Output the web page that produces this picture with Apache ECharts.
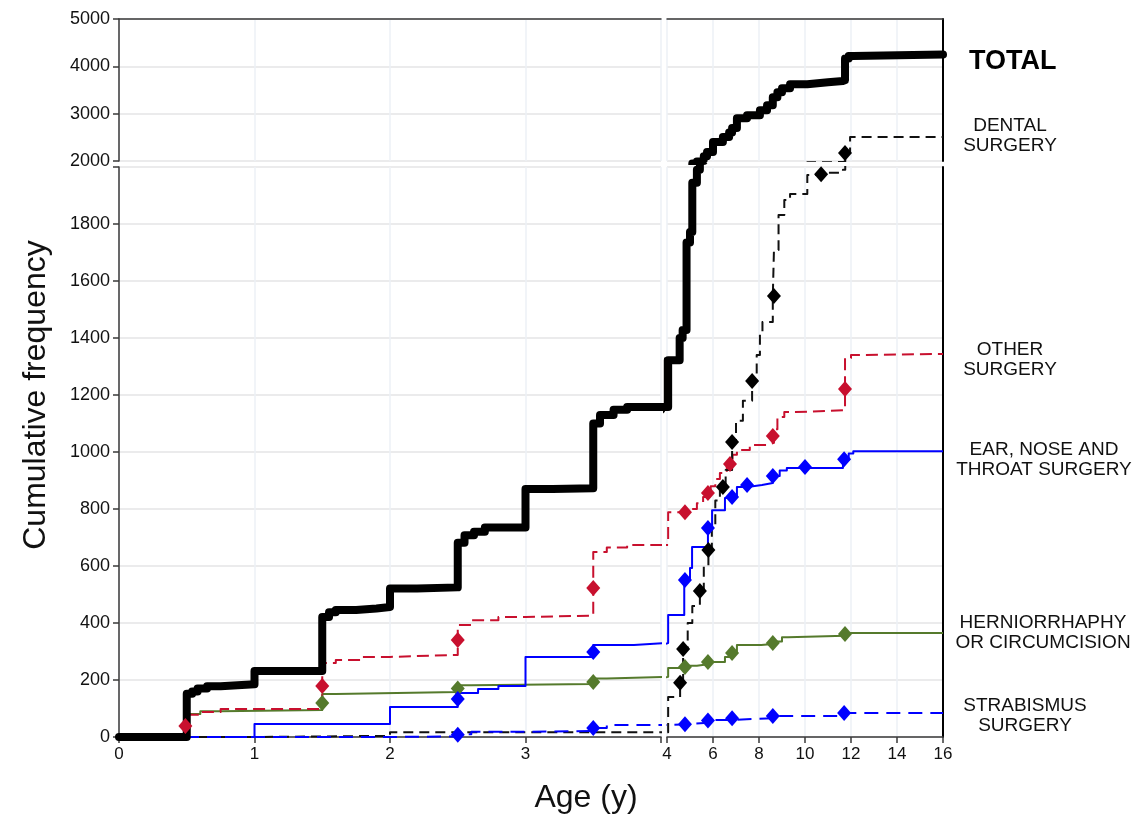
<!DOCTYPE html>
<html><head><meta charset="utf-8">
<script src="https://cdn.jsdelivr.net/npm/echarts@6/dist/echarts.min.js"></script>
<style>html,body{margin:0;padding:0;background:#fff}#c{width:1139px;height:815px}</style>
</head><body><div id="c"></div>
<script>
// ---- data (age in years, cumulative frequency) ----
const seriesNames = ['TOTAL', 'DENTAL\nSURGERY', 'OTHER\nSURGERY', 'EAR, NOSE AND\nTHROAT SURGERY', 'HERNIORRHAPHY\nOR CIRCUMCISION', 'STRABISMUS\nSURGERY'];

const totalData = [[0,0],[0.5,152],[0.54,160],[0.58,170],[0.65,178],[0.75,185],[1.0,232],[1.5,421],[1.55,438],[1.6,446],[1.75,451],[1.9,456],[2.0,521],[2.2,525],[2.5,682],[2.55,708],[2.62,720],[2.7,735],[3.0,870],[3.2,873],[3.5,1100],[3.55,1130],[3.65,1148],[3.75,1158],[4.05,1322],[4.55,1400],[4.68,1428],[4.85,1735],[5.0,1772],[5.1,1945],[5.3,1990],[5.43,2021],[5.6,2100],[5.74,2190],[6.0,2400],[6.43,2505],[6.7,2600],[6.83,2695],[7.04,2905],[7.48,2968],[8.04,3073],[8.35,3179],[8.6,3347],[8.8,3450],[9.0,3537],[9.35,3621],[10.1,3663],[11.0,3690],[11.65,3705],[11.74,4168],[11.9,4220],[12.1,4250],[16,4250]];

const dentalData = [[0,0],[1.0,4],[2.0,17],[4.05,140],[4.57,190],[4.7,309],[4.9,400],[5.1,460],[5.43,512],[5.6,600],[5.8,656],[5.95,740],[6.1,830],[6.3,874],[6.55,937],[6.83,1035],[7.0,1110],[7.3,1180],[7.7,1249],[7.9,1340],[8.04,1421],[8.15,1456],[8.6,1547],[8.65,1709],[8.85,1832],[9.1,1884],[9.35,1905],[10.1,1972],[11.0,1980],[11.65,1990],[11.75,2168],[11.96,2505],[16,2505]];
const dentalMarks = [[4.57,190],[4.7,309],[5.43,512],[5.8,656],[6.43,877],[6.83,1035],[7.7,1249],[8.65,1547],[10.7,1975],[11.74,2168]];

const otherData = [[0,0],[0.5,78],[0.6,88],[0.75,98],[1.5,260],[1.6,270],[1.8,281],[2.0,288],[2.5,393],[2.6,410],[2.8,421],[3.0,426],[3.5,649],[3.6,665],[3.75,674],[4.05,789],[5.0,800],[5.3,820],[5.57,842],[5.9,880],[6.1,905],[6.3,926],[6.6,960],[6.85,990],[7.04,1007],[7.6,1025],[8.35,1032],[8.65,1080],[8.8,1123],[9.1,1140],[9.57,1147],[11.74,1330],[12.0,1340],[12.1,1344],[16,1344]];
const otherMarks = [[0.49,39],[1.5,179],[2.5,340],[3.5,523],[4.78,789],[5.78,856],[6.74,958],[8.6,1056],[11.74,1221]];

const entData = [[0,0],[1.0,46],[2.0,105],[2.5,154],[2.65,168],[2.8,179],[3.0,281],[3.5,323],[3.8,330],[4.05,428],[4.75,551],[5.0,593],[5.09,667],[5.78,733],[5.96,796],[6.52,839],[6.83,845],[7.04,877],[7.5,884],[8.13,891],[8.6,916],[8.9,935],[9.21,944],[11.65,972],[11.9,995],[12.1,1003],[16,1003]];
const entMarks = [[2.5,133],[3.5,298],[4.78,551],[5.78,733],[6.83,842],[7.48,884],[8.6,916],[10.0,947],[11.7,975]];

const herniaData = [[0,0],[0.5,81],[0.6,90],[0.75,95],[1.5,151],[1.6,158],[2.5,182],[2.6,186],[3.5,205],[3.6,211],[4.05,242],[4.78,250],[5.3,255],[5.78,263],[6.52,281],[6.8,300],[7.04,323],[8.1,326],[8.6,335],[9.0,350],[9.26,355],[11.74,365],[16,365]];
const herniaMarks = [[1.5,119],[2.5,170],[3.5,193],[4.78,246],[5.78,263],[6.83,295],[8.6,330],[11.74,361]];

const strabData = [[0,0],[2.0,2],[2.5,10],[2.6,18],[3.0,21],[3.5,32],[3.6,42],[4.05,45],[4.9,50],[5.8,60],[6.8,66],[8.6,74],[11.7,84],[16,84]];
const strabMarks = [[2.5,8],[3.5,32],[4.78,45],[5.78,58],[6.83,66],[8.6,74],[11.7,84]];

// axis ranges / ticks
const xLeftRange = [0, 4, 1];
const xRightRange = [4, 16, 2];
const yLowRange = [0, 2000, 200];
const yHighRange = [2000, 5000, 1000];

// ---- styling ----
const FONT = 'Liberation Sans, Arial, sans-serif';
const RED = '#c8102e', BLUE = '#0000ff', GREEN = '#557a2c', BLACK = '#000000';

const lineDefs = [
  { data: herniaData, marks: herniaMarks, color: GREEN, width: 2, type: 'solid' },
  { data: entData, marks: entMarks, color: BLUE, width: 2, type: 'solid' },
  { data: otherData, marks: otherMarks, color: RED, width: 2, type: [12, 6] },
  { data: dentalData, marks: dentalMarks, color: '#111111', width: 2, type: [10, 6] },
  { data: strabData, marks: strabMarks, color: BLUE, width: 2, type: [14, 8] },
  { data: totalData, marks: null, color: BLACK, width: 8, type: 'solid' }
];

const grids = [
  { left: 119, top: 167, width: 542, height: 570 },  // lower-left
  { left: 667, top: 167, width: 276, height: 570 },  // lower-right
  { left: 119, top: 19, width: 542, height: 142 },   // upper-left
  { left: 667, top: 19, width: 276, height: 142 }    // upper-right
];

const gridLineH = { show: true, lineStyle: { color: '#e4e4e6', width: 1.5 } };
const gridLineV = { show: true, lineStyle: { color: '#edf0f6', width: 1.5 } };
const axLine = { show: true, onZero: false, lineStyle: { color: '#3a3a3a', width: 1.5 } };
const borderLine = { show: true, onZero: false, lineStyle: { color: '#000', width: 2 } };
const tickOut = { show: true, inside: false, length: 6, lineStyle: { color: '#3a3a3a', width: 1.5 } };
const lbl = { color: '#111', fontFamily: FONT, fontSize: 17 };

const xAxes = [
  { gridIndex: 0, type: 'value', min: xLeftRange[0], max: xLeftRange[1], interval: xLeftRange[2], position: 'bottom',
    axisLine: axLine, axisTick: tickOut, splitLine: gridLineV,
    axisLabel: Object.assign({ margin: 9, formatter: v => (v === 4 ? '' : String(v)) }, lbl) },
  { gridIndex: 1, type: 'value', min: xRightRange[0], max: xRightRange[1], interval: xRightRange[2], position: 'bottom',
    axisLine: axLine, axisTick: tickOut, splitLine: gridLineV,
    axisLabel: Object.assign({ margin: 9, formatter: v => String(v) }, lbl) },
  { gridIndex: 2, type: 'value', min: xLeftRange[0], max: xLeftRange[1], interval: xLeftRange[2], position: 'top',
    axisLine: axLine, axisTick: { show: false }, axisLabel: { show: false }, splitLine: gridLineV },
  { gridIndex: 3, type: 'value', min: xRightRange[0], max: xRightRange[1], interval: xRightRange[2], position: 'top',
    axisLine: axLine, axisTick: { show: false }, axisLabel: { show: false }, splitLine: gridLineV }
];
const yAxes = [
  { gridIndex: 0, type: 'value', min: yLowRange[0], max: yLowRange[1], interval: yLowRange[2], position: 'left',
    axisLine: axLine, axisTick: tickOut, splitLine: gridLineH,
    axisLabel: { margin: 9, fontSize: 18, color: '#111', fontFamily: FONT, formatter: v => (v === 2000 ? '' : String(v)) } },
  { gridIndex: 1, type: 'value', min: yLowRange[0], max: yLowRange[1], interval: yLowRange[2], position: 'right',
    axisLine: borderLine, axisTick: { show: false }, axisLabel: { show: false }, splitLine: gridLineH },
  { gridIndex: 2, type: 'value', min: yHighRange[0], max: yHighRange[1], interval: yHighRange[2], position: 'left',
    axisLine: axLine, axisTick: tickOut, splitLine: gridLineH,
    axisLabel: { margin: 9, fontSize: 18, color: '#111', fontFamily: FONT, formatter: v => String(v) } },
  { gridIndex: 3, type: 'value', min: yHighRange[0], max: yHighRange[1], interval: yHighRange[2], position: 'right',
    axisLine: borderLine, axisTick: { show: false }, axisLabel: { show: false }, splitLine: gridLineH }
];

const series = [];
for (let g = 0; g < 4; g++) {
  lineDefs.forEach((d, i) => {
    series.push({
      type: 'line', xAxisIndex: g, yAxisIndex: g, data: d.data, step: 'end',
      showSymbol: false, symbol: 'none', clip: true, z: 2 + i,
      lineStyle: { color: d.color, width: d.width, type: d.type, cap: d.width > 3 ? 'round' : 'butt', join: 'round' },
      silent: true
    });
  });
  lineDefs.forEach((d) => {
    if (!d.marks) return;
    series.push({
      type: 'scatter', xAxisIndex: g, yAxisIndex: g, data: d.marks, clip: true,
      symbol: 'diamond', symbolSize: [14, 16], z: 10,
      itemStyle: { color: d.color === '#111111' ? '#000' : d.color, opacity: 1 }, silent: true
    });
  });
}

const labelStyle = { fontFamily: FONT, fontSize: 19, fill: '#111', align: 'center', lineHeight: 20 };
const labelPos = [
  { x: 969, y: 62, bold: true },
  { x: 1010, y: 136 },
  { x: 1010, y: 360 },
  { x: 1044, y: 460 },
  { x: 1043, y: 633 },
  { x: 1025, y: 716 }
];
const graphics = seriesNames.map((name, i) => {
  const p = labelPos[i];
  return {
    type: 'text', x: p.x, y: p.y, silent: true,
    style: p.bold
      ? { text: name, fontFamily: FONT, fontSize: 27, fontWeight: 'bold', fill: '#000', align: 'left', verticalAlign: 'middle' }
      : Object.assign({ text: name, verticalAlign: 'middle' }, labelStyle)
  };
});
graphics.push({ type: 'text', x: 36, y: 395, rotation: Math.PI / 2, silent: true,
  style: { text: 'Cumulative frequency', fontFamily: FONT, fontSize: 32, fill: '#111', align: 'center', verticalAlign: 'middle' } });
graphics.push({ type: 'text', x: 586, y: 798, silent: true,
  style: { text: 'Age (y)', fontFamily: FONT, fontSize: 32, fill: '#111', align: 'center', verticalAlign: 'middle' } });

const chart = echarts.init(document.getElementById('c'), null, { renderer: 'canvas' });
chart.setOption({
  backgroundColor: '#fff',
  animation: false,
  grid: grids,
  xAxis: xAxes,
  yAxis: yAxes,
  series: series,
  graphic: graphics
});
</script>
</body></html>
